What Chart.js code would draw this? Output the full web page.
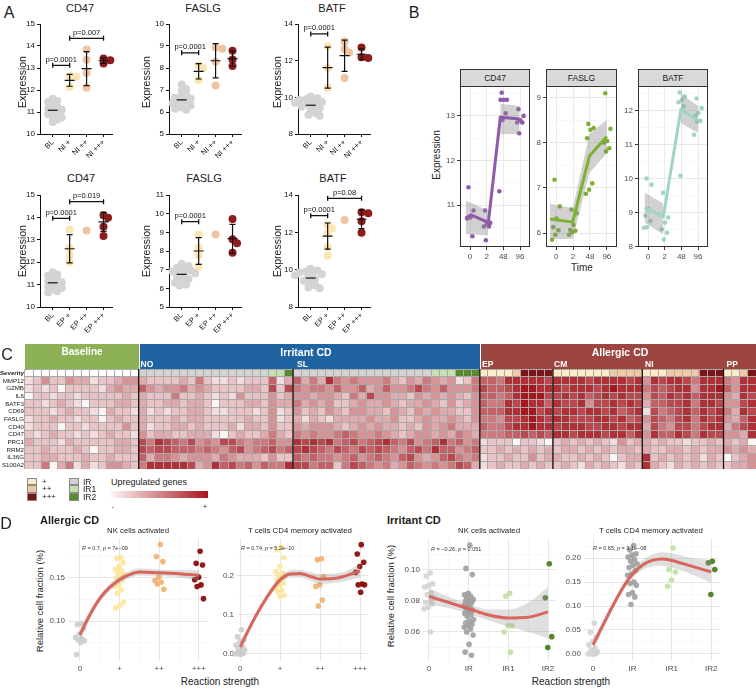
<!DOCTYPE html>
<html>
<head>
<meta charset="utf-8">
<title>Figure</title>
<script src="https://cdn.jsdelivr.net/npm/chart.js@4.4.1/dist/chart.umd.min.js"></script>
<style>
  html, body { margin: 0; padding: 0; background: #fff; }
  body { position: relative; width: 756px; height: 689px; overflow: hidden; font-family: 'Liberation Sans', Arial, Helvetica, sans-serif; color: #222; }
  canvas { position: absolute; }
  .t { position: absolute; white-space: nowrap; line-height: 1; }
  .box { position: absolute; box-sizing: border-box; }
</style>
</head>
<body>
<script>
// ---------- Panel A: expression per reaction group ----------
const A_TOP_CATS = ['BL', 'NI +', 'NI ++', 'NI +++'];
const A_BOT_CATS = ['BL', 'EP +', 'EP ++', 'EP +++'];
const A_COLORS = ['#d4d4d4', '#fbe6b2', '#efc4a2', '#8d1c1c'];

const A_TICKS_CD47 = [10, 11, 12, 13, 14, 15];
const A_TICKS_FASLG_NI = [5, 6, 7, 8, 9, 10];
const A_TICKS_FASLG_EP = [5, 6, 7, 8, 9, 10, 11];
const A_TICKS_BATF = [8, 10, 12, 14];

const CD47_NI = [
  [11.6, 11.5, 11.45, 11.35, 11.25, 11.15, 11.1, 11.05, 10.95, 10.9, 10.8, 10.75, 10.65, 10.55],
  [12.64, 12.6, 12.12],
  [13.84, 13.38, 12.77, 12.1],
  [13.43, 13.35, 13.2]
];
const CD47_NI_STATS = [[11.08, 0], [12.44, 0.27], [12.97, 0.77], [13.33, 0.12]];
const CD47_NI_P = [[0, 1, 13.12, 'p=0.0001'], [1, 3, 14.35, 'p=0.007']];

const FASLG_NI = [
  [7.25, 7.05, 6.95, 6.8, 6.7, 6.65, 6.6, 6.5, 6.45, 6.4, 6.3, 6.2, 6.15, 6.1],
  [8.13, 8.0, 7.45],
  [8.93, 8.88, 8.28, 7.2],
  [8.78, 8.39, 8.09]
];
const FASLG_NI_STATS = [[6.55, 0], [7.85, 0.35], [8.33, 0.78], [8.43, 0.35]];
const FASLG_NI_P = [[0, 1, 8.69, 'p=0.0001']];

const BATF_NI = [
  [10.05, 9.95, 9.9, 9.85, 9.8, 9.75, 9.7, 9.6, 9.55, 9.5, 9.4, 9.3, 9.15, 9.05, 9.0],
  [12.78, 11.6, 10.52],
  [13.05, 12.63, 12.45, 11.06],
  [12.72, 12.18, 12.15]
];
const BATF_NI_STATS = [[9.57, 0], [11.62, 1.12], [12.27, 0.85], [12.35, 0.3]];
const BATF_NI_P = [[0, 1, 13.46, 'p=0.0001']];

const CD47_EP = [
  [11.55, 11.45, 11.4, 11.3, 11.2, 11.15, 11.1, 11.05, 10.95, 10.9, 10.85, 10.8, 10.7, 10.65],
  [13.46, 12.62, 12.3, 12.0],
  [13.42],
  [14.1, 13.98, 13.58, 13.17]
];
const CD47_EP_STATS = [[11.08, 0], [12.6, 0.63], null, [13.8, 0.42]];
const CD47_EP_P = [[0, 1, 13.96, 'p=0.0001'], [1, 3, 14.7, 'p=0.019']];

const FASLG_EP = [
  [7.3, 7.2, 7.1, 7.0, 6.95, 6.9, 6.85, 6.8, 6.7, 6.6, 6.5, 6.4, 6.3, 6.2, 6.15],
  [8.88, 8.17, 7.77, 7.15],
  [8.88],
  [9.72, 8.63, 8.42, 7.9]
];
const FASLG_EP_STATS = [[6.75, 0], [8.0, 0.72], null, [8.66, 0.77]];
const FASLG_EP_P = [[0, 1, 9.57, 'p=0.0001']];

const BATF_EP = [
  [10.05, 9.95, 9.9, 9.85, 9.8, 9.75, 9.7, 9.6, 9.5, 9.4, 9.3, 9.15, 9.05, 9.0],
  [12.39, 12.2, 11.94, 11.22, 10.74],
  [12.66],
  [13.08, 13.02, 12.6, 11.98]
];
const BATF_EP_STATS = [[9.55, 0], [11.8, 0.7], null, [12.7, 0.5]];
const BATF_EP_P = [[0, 1, 12.89, 'p=0.0001'], [1, 3, 13.82, 'p=0.08']];

// ---------- Panel B: time course ----------
const B_TIMES = ['0', '2', '48', '96'];

const B_CD47_PTS = [[11.4, 10.88, 10.72, 10.7, 10.3], [10.88, 10.6, 10.58, 10.52, 10.52, 10.21],
  [13.52, 13.36, 13.36, 13.36, 13.06, 12.91, 11.31], [13.15, 13.0, 12.9, 12.85, 12.85, 12.61]];
const B_CD47_LINE_X = [0.74, 1.06, 2.1, 2.82, 3.98];
const B_CD47_LINE_Y = [10.71, 10.78, 10.61, 12.97, 12.93];
const B_CD47_BAND_X = [[0.74, 2.1], [2.82, 3.98]];
const B_CD47_BAND_LO = [[10.35, 10.32], [12.58, 12.6]];
const B_CD47_BAND_HI = [[11.1, 10.88], [13.27, 13.22]];

const B_FASLG_PTS = [[7.18, 6.59, 6.32, 6.13, 6.06, 5.96, 5.85], [6.52, 6.44, 6.18, 6.07, 6.05, 6.02, 5.96],
  [8.42, 8.33, 8.29, 8.1, 7.1, 6.96, 6.87], [9.1, 8.31, 8.04, 8.0, 7.88, 7.81]];
const B_FASLG_LINE_X = [0.64, 1.98, 2.97, 4.0];
const B_FASLG_LINE_Y = [6.31, 6.24, 7.71, 8.14];
const B_FASLG_BAND_X = [[0.64, 1.98, 2.97, 4.0]];
const B_FASLG_BAND_LO = [[5.87, 5.87, 7.33, 7.77]];
const B_FASLG_BAND_HI = [[6.65, 6.55, 8.2, 8.51]];

const B_BATF_PTS = [[10.0, 9.82, 9.1, 8.9, 8.75, 8.57, 8.55], [9.58, 8.85, 8.7, 8.5, 8.4, 8.2],
  [12.54, 12.42, 12.32, 12.25, 12.13, 10.08], [12.36, 12.08, 11.93, 11.85, 11.7, 11.68, 11.29]];
const B_BATF_LINE_X = [0.8, 1.92, 2.97, 4.0];
const B_BATF_LINE_Y = [9.14, 8.87, 12.03, 11.72];
const B_BATF_BAND_X = [[0.8, 1.92], [2.97, 4.0]];
const B_BATF_BAND_LO = [[8.7, 8.35], [11.64, 11.34]];
const B_BATF_BAND_HI = [[9.58, 9.26], [12.5, 12.15]];

// ---------- Panel C: heatmap ----------
const HM_ROWS = ['Severity', 'MMP12', 'GZMB', 'IL6', 'BATF3', 'CD69', 'FASLG', 'CD40', 'CD47', 'PRC1', 'RRM2', 'IL36G', 'S100A2'];
// groups: Baseline 14 | NO 19 | SL 23 | EP 9 | CM 11 | NI 10 | PP 4
const HM_SPLITS = [14, 33, 56, 65, 76, 86];
const HM_SEVERITY = '00000000000000 gggggggggggggggglld ggggggggggggggggglllddd 111123333 11111112222 1112222333 1123';
const HM_MMP12 = '12422433122344 3222232521121222613 63538545444532435434125 665888887 88887888878 4878875888 5488';
const HM_GZMB = '12120222213433 6434453432222332727 54554644634644575464445 766789988 87888789888 5767884889 6488';
const HM_IL6 = '02212212222232 3222522321214222423 44344325374433243434324 665689997 78786787877 4768786888 4387';
const HM_BATF3 = '22123210222332 3223323320222332433 53434223433432334324234 655879886 87784778787 3667785887 4478';
const HM_CD69 = '22212322103221 3121223321122212412 42324324433243243433224 666889978 78878878678 1756786878 5387';
const HM_FASLG = '12232212202322 3222323322222322412 31321333343342234334324 554778987 88777887867 4765785878 4368';
const HM_CD40 = '12220221222242 3122332322231332422 43444323434332324345333 655788988 78887788788 3754775788 3578';
const HM_CD47 = '21232212123221 4233223331023223532 54544565445432344343543 555667676 88788878868 4866875877 4438';
const HM_PRC1 = '32221322222332 7587657454775455644 87878567567865745685645 122202210 23232321423 3232212232 3230';
const HM_RRM2 = '22322232022332 7677666565467456756 78765765767654675866456 223232323 23323232332 3223323233 4343';
const HM_IL36G = '22332223223222 6355434443543332422 65655456456546743467545 122322423 32232320233 8232323132 0234';
const HM_S100A2 = '22503513124432 5888887348675646558 77566257654534654545763 123223232 23213232132 8321323232 2334';
const SEV_COLORS = { '0': '#ffffff', g: '#d2d2d2', l: '#c6dfae', d: '#5a8a2e', '1': '#fcecc5', '2': '#f0c8a6', '3': '#7b1416' };
const HM_LOW = [252, 245, 246], HM_HIGH = [168, 22, 30];

// ---------- Panel D: cell fractions vs reaction strength ----------
const D_ALLERGIC_X = ['0', '+', '++', '+++'];
const D_IRRITANT_X = ['0', 'IR', 'IR1', 'IR2'];
const D_X_MINOR = [0.5, 1.5, 2.5];

const D1_PTS = [
  [0.097, 0.096, 0.091, 0.085, 0.081, 0.079, 0.078, 0.077, 0.075, 0.061],
  [0.174, 0.173, 0.168, 0.164, 0.160, 0.158, 0.156, 0.154, 0.152, 0.150, 0.148, 0.142, 0.140, 0.136, 0.132, 0.122, 0.118, 0.115],
  [0.189, 0.175, 0.169, 0.151, 0.147, 0.145, 0.143, 0.137],
  [0.181, 0.167, 0.165, 0.151, 0.148, 0.142, 0.140, 0.126]
];
const D1_CX = [0, 0.25, 0.5, 0.75, 1, 1.25, 1.5, 2, 2.5, 3];
const D1_CY = [0.084, 0.107, 0.126, 0.139, 0.148, 0.154, 0.157, 0.156, 0.155, 0.153];
const D1_LO = [0.078, 0.102, 0.122, 0.135, 0.144, 0.150, 0.153, 0.152, 0.151, 0.147];
const D1_HI = [0.090, 0.112, 0.130, 0.143, 0.152, 0.158, 0.161, 0.160, 0.159, 0.159];
const D1_YT = ['0.10', '0.15'];
const D1_YM = [0.075, 0.125, 0.175];

const D2_PTS = [
  [0.062, 0.044, 0.036, 0.032, 0.023, 0.019, 0.015, 0.010, 0.006, 0.003, 0.002, 0.0, 0.0, 0.0],
  [0.273, 0.267, 0.247, 0.224, 0.211, 0.207, 0.203, 0.198, 0.194, 0.19, 0.181, 0.177, 0.168, 0.164, 0.16, 0.151, 0.147],
  [0.244, 0.241, 0.198, 0.177, 0.173, 0.138, 0.123],
  [0.28, 0.256, 0.235, 0.224, 0.209, 0.179, 0.177, 0.177, 0.158]
];
const D2_CX = [0, 0.25, 0.5, 0.75, 1, 1.25, 1.5, 1.75, 2, 2.5, 3];
const D2_CY = [0.018, 0.07, 0.117, 0.158, 0.19, 0.205, 0.206, 0.199, 0.192, 0.196, 0.213];
const D2_LO = [0.006, 0.06, 0.108, 0.149, 0.181, 0.195, 0.196, 0.188, 0.179, 0.184, 0.196];
const D2_HI = [0.030, 0.08, 0.126, 0.167, 0.199, 0.215, 0.216, 0.210, 0.205, 0.208, 0.230];
const D2_YT = ['0.0', '0.1', '0.2'];
const D2_YM = [0.05, 0.15, 0.25];

const D3_PTS = [
  [0.098, 0.096, 0.091, 0.090, 0.089, 0.085, 0.084, 0.082, 0.080, 0.079, 0.078, 0.076, 0.075, 0.060],
  [0.116, 0.101, 0.097, 0.085, 0.084, 0.083, 0.082, 0.081, 0.080, 0.080, 0.079, 0.078, 0.077, 0.076, 0.075, 0.074,
   0.073, 0.072, 0.071, 0.070, 0.068, 0.067, 0.066, 0.065, 0.064, 0.063, 0.062, 0.060, 0.058, 0.052, 0.047, 0.045],
  [0.085, 0.083, 0.064, 0.064, 0.060, 0.047],
  [0.104, 0.082, 0.057, 0.050]
];
const D3_CX = [0, 0.5, 1, 1.5, 2, 2.5, 3];
const D3_CY = [0.083, 0.079, 0.075, 0.071, 0.069, 0.0695, 0.073];
const D3_LO = [0.0775, 0.0755, 0.072, 0.0675, 0.0635, 0.060, 0.056];
const D3_HI = [0.0885, 0.0825, 0.078, 0.0745, 0.0745, 0.079, 0.089];
const D3_YT = ['0.06', '0.08', '0.10'];
const D3_YM = [0.05, 0.07, 0.09, 0.11];

const D4_PTS = [
  [0.064, 0.045, 0.036, 0.026, 0.019, 0.012, 0.008, 0.005, 0.003, 0.002, 0.001, 0.0, 0.0, 0.0],
  [0.226, 0.217, 0.209, 0.206, 0.202, 0.197, 0.193, 0.188, 0.185, 0.18, 0.174, 0.167, 0.164, 0.15, 0.147, 0.143, 0.128, 0.124, 0.119, 0.103],
  [0.221, 0.176, 0.171, 0.154, 0.141],
  [0.193, 0.19, 0.176, 0.124]
];
const D4_CX = [0, 0.25, 0.5, 0.75, 1, 1.25, 1.5, 1.75, 2, 2.5, 3];
const D4_CY = [0.019, 0.06, 0.1, 0.137, 0.166, 0.185, 0.195, 0.198, 0.195, 0.183, 0.171];
const D4_LO = [0.009, 0.051, 0.092, 0.129, 0.158, 0.175, 0.183, 0.184, 0.180, 0.166, 0.148];
const D4_HI = [0.029, 0.069, 0.108, 0.145, 0.174, 0.195, 0.207, 0.212, 0.210, 0.200, 0.196];
const D4_YT = ['0.00', '0.05', '0.10', '0.15', '0.20'];
const D4_YM = [0.025, 0.075, 0.125, 0.175, 0.225];

const D_ALLERGIC_COLORS = ['rgba(205,205,205,0.9)', 'rgba(253,229,155,0.9)', 'rgba(240,172,102,0.85)', 'rgba(137,14,14,0.95)'];
const D_IRRITANT_COLORS = ['rgba(212,212,212,0.9)', 'rgba(160,160,160,0.9)', 'rgba(196,226,165,0.95)', 'rgba(78,126,36,0.95)'];

// ---------- setup ----------
Chart.defaults.font.family = "'Liberation Sans', Arial, Helvetica, sans-serif";
Chart.defaults.animation = false;
Chart.defaults.responsive = false;
Chart.defaults.maintainAspectRatio = false;
Chart.defaults.plugins.legend.display = false;
Chart.defaults.plugins.tooltip.enabled = false;
Chart.defaults.events = [];

function txt(str, x, y, o = {}) {
  const d = document.createElement('div');
  d.className = 't';
  if (o.html) d.innerHTML = str; else d.textContent = str;
  d.style.left = x + 'px';
  d.style.top = y + 'px';
  d.style.fontSize = (o.size || 9) + 'px';
  d.style.fontWeight = o.bold ? 'bold' : 'normal';
  d.style.color = o.color || '#222';
  const tx = o.align === 'left' ? '0' : (o.align === 'right' ? '-100%' : '-50%');
  d.style.transform = `translate(${tx},-50%)` + (o.rot ? ` rotate(${o.rot}deg)` : '');
  document.body.appendChild(d);
}

function box(x, y, w, h, bg, border) {
  const d = document.createElement('div');
  d.className = 'box';
  Object.assign(d.style, { left: x + 'px', top: y + 'px', width: w + 'px', height: h + 'px', background: bg });
  if (border) d.style.border = border;
  document.body.appendChild(d);
}

// puts a chart so that its plot area lands on area = [x0, y0, x1, y1]
function place(area, yW, xH, padT, padR, cfg) {
  const [x0, y0, x1, y1] = area;
  const c = document.createElement('canvas');
  c.width = Math.round(x1 - x0 + yW + padR);
  c.height = Math.round(y1 - y0 + padT + xH);
  c.style.left = (x0 - yW) + 'px';
  c.style.top = (y0 - padT) + 'px';
  document.body.appendChild(c);
  cfg.options.devicePixelRatio = 1;
  cfg.options.layout = { autoPadding: false, padding: { left: 0, top: padT, right: padR, bottom: 0 } };
  cfg.options.scales.x.afterFit = s => { s.height = xH; s.paddingLeft = 0; s.paddingRight = 0; };
  cfg.options.scales.y.afterFit = s => { s.width = yW; s.paddingTop = 0; s.paddingBottom = 0; };
  return new Chart(c, cfg);
}

const majMin = (major, minor) => [...major.map(v => ({ value: v, mj: true })), ...minor.map(v => ({ value: v, mj: false }))]
  .sort((a, b) => a.value - b.value);
const isMj = c => c.tick && c.tick.mj;

// ---------- Panel A ----------
function swarmOffsets(vals, pxY, pxX, minD) {
  const placed = [];
  return vals.map(v => {
    const py = v * pxY;
    let dx = 0;
    for (let k = 0; k < 30; k++) {
      const cand = (k % 2 ? 1 : -1) * Math.ceil(k / 2) * minD * 0.45;
      if (placed.every(p => Math.hypot(p[0] - cand, p[1] - py) >= minD)) { dx = cand; break; }
    }
    placed.push([dx, py]);
    return dx / pxX;
  });
}

const aStats = {
  id: 'aStats',
  afterDatasetsDraw(chart, args, o) {
    const { ctx } = chart, x = chart.scales.x, y = chart.scales.y;
    ctx.save();
    ctx.strokeStyle = '#111';
    ctx.fillStyle = '#111';
    ctx.lineWidth = 1.2;
    o.stats.forEach((s, g) => {
      if (!s) return;
      const cx = x.getPixelForValue(g), m = s[0], sd = s[1];
      const ym = y.getPixelForValue(m);
      ctx.beginPath();
      ctx.moveTo(cx - 5, ym); ctx.lineTo(cx + 5, ym);
      if (sd > 0) {
        const yt = y.getPixelForValue(m + sd), yb = y.getPixelForValue(m - sd);
        ctx.moveTo(cx, yt); ctx.lineTo(cx, yb);
        ctx.moveTo(cx - 3, yt); ctx.lineTo(cx + 3, yt);
        ctx.moveTo(cx - 3, yb); ctx.lineTo(cx + 3, yb);
      }
      ctx.stroke();
    });
    ctx.lineWidth = 1.3;
    ctx.font = "7.5px 'Liberation Sans', Arial, sans-serif";
    ctx.textAlign = 'center';
    ctx.textBaseline = 'bottom';
    o.brackets.forEach(([a, b, v, label]) => {
      const xa = x.getPixelForValue(a), xb = x.getPixelForValue(b), yy = y.getPixelForValue(v);
      ctx.beginPath();
      ctx.moveTo(xa, yy); ctx.lineTo(xb, yy);
      ctx.moveTo(xa, yy - 2.5); ctx.lineTo(xa, yy + 2.5);
      ctx.moveTo(xb, yy - 2.5); ctx.lineTo(xb, yy + 2.5);
      ctx.stroke();
      ctx.fillText(label, (xa + xb) / 2, yy - 2);
    });
    ctx.restore();
  }
};

function aChart(x0, y0, y1, cats, groups, stats, brackets, yTicks) {
  const W = 72, xMin = -0.75, xMax = 3.5;
  const yMin = yTicks[0], yMax = yTicks[yTicks.length - 1];
  const pxY = (y1 - y0) / (yMax - yMin), pxX = W / (xMax - xMin);
  const datasets = groups.map((vals, g) => {
    const offs = swarmOffsets(vals, pxY, pxX, 5);
    return {
      data: vals.map((v, i) => ({ x: g + offs[i], y: v })),
      backgroundColor: A_COLORS[g], borderWidth: 0, pointRadius: 4, clip: false
    };
  });
  place([x0, y0, x0 + W, y1], 22, 34, 8, 6, {
    type: 'scatter',
    data: { datasets },
    options: {
      scales: {
        x: {
          type: 'linear', min: xMin, max: xMax,
          afterBuildTicks: s => { s.ticks = cats.map((c, i) => ({ value: i })); },
          ticks: { callback: v => cats[v], autoSkip: false, minRotation: 45, maxRotation: 45, padding: 1, font: { size: 7.5 }, color: '#111' },
          grid: { drawOnChartArea: false, drawTicks: true, tickLength: 3, color: '#111' },
          border: { color: '#111', width: 1 }
        },
        y: {
          min: yMin, max: yMax,
          afterBuildTicks: s => { s.ticks = yTicks.map(v => ({ value: v })); },
          ticks: { padding: 2, font: { size: 8 }, color: '#111', autoSkip: false },
          grid: { drawOnChartArea: false, drawTicks: true, tickLength: 3, color: '#111' },
          border: { color: '#111', width: 1 }
        }
      },
      plugins: { aStats: { stats, brackets } }
    },
    plugins: [aStats]
  });
}

aChart(40, 24, 134, A_TOP_CATS, CD47_NI, CD47_NI_STATS, CD47_NI_P, A_TICKS_CD47);
aChart(169, 24, 134, A_TOP_CATS, FASLG_NI, FASLG_NI_STATS, FASLG_NI_P, A_TICKS_FASLG_NI);
aChart(298, 24, 134, A_TOP_CATS, BATF_NI, BATF_NI_STATS, BATF_NI_P, A_TICKS_BATF);
aChart(40, 195, 307, A_BOT_CATS, CD47_EP, CD47_EP_STATS, CD47_EP_P, A_TICKS_CD47);
aChart(169, 195, 307, A_BOT_CATS, FASLG_EP, FASLG_EP_STATS, FASLG_EP_P, A_TICKS_FASLG_EP);
aChart(298, 195, 307, A_BOT_CATS, BATF_EP, BATF_EP_STATS, BATF_EP_P, A_TICKS_BATF);

txt('A', 9, 13, { size: 16 });
[['CD47', 80], ['FASLG', 203], ['BATF', 332]].forEach(([t, x]) => { txt(t, x, 8, { size: 11 }); txt(t, x + 1, 178, { size: 11 }); });
[22, 146, 277].forEach(x => { txt('Expression', x, 82, { size: 10.5, rot: -90 }); txt('Expression', x, 251, { size: 10.5, rot: -90 }); });

// ---------- Panel B ----------
const frame = {
  id: 'frame',
  afterDraw(chart) {
    const { ctx, chartArea: a } = chart;
    ctx.save();
    ctx.strokeStyle = '#333';
    ctx.lineWidth = 1;
    ctx.strokeRect(Math.round(a.left) + 0.5, Math.round(a.top) + 0.5, Math.round(a.width) - 1, Math.round(a.height) - 1);
    ctx.restore();
  }
};
const jitB = i => (((i * 0.618034 + 0.31) % 1) - 0.5) * 0.5;

function bChart(area, name, color, pts, lx, ly, bx, blo, bhi, yr, yMajor, yMinor) {
  const datasets = [{
    type: 'line', data: lx.map((x, i) => ({ x, y: ly[i] })), borderColor: color, borderWidth: 3,
    pointRadius: 0, tension: 0, order: 0, clip: false, fill: false
  }];
  bx.forEach((xs, s) => {
    datasets.push({ type: 'line', data: xs.map((x, i) => ({ x, y: blo[s][i] })), borderColor: 'rgba(0,0,0,0)', pointRadius: 0, order: 1, fill: false });
    datasets.push({ type: 'line', data: xs.map((x, i) => ({ x, y: bhi[s][i] })), borderColor: 'rgba(0,0,0,0)', pointRadius: 0, order: 1, fill: '-1', backgroundColor: 'rgba(140,140,140,0.4)' });
  });
  pts.forEach((vals, g) => {
    datasets.push({ data: vals.map((v, i) => ({ x: g + 1 + jitB(i), y: v })), backgroundColor: color, pointRadius: 2.3, borderWidth: 0, order: 2, clip: false });
  });
  place(area, 16, 14, 2, 2, {
    type: 'scatter',
    data: { datasets },
    options: {
      scales: {
        x: {
          type: 'linear', min: 0.4, max: 4.6,
          afterBuildTicks: s => { s.ticks = B_TIMES.map((t, i) => ({ value: i + 1 })); },
          ticks: { autoSkip: false, maxRotation: 0, padding: 2, font: { size: 8 }, color: '#4d4d4d', callback: v => B_TIMES[v - 1] },
          grid: { color: '#ebebeb', lineWidth: 1, tickColor: '#333', tickLength: 3 },
          border: { display: false }
        },
        y: {
          min: yr[0], max: yr[1],
          afterBuildTicks: s => { s.ticks = majMin(yMajor, yMinor); },
          ticks: { autoSkip: false, padding: 2, font: { size: 8 }, color: '#4d4d4d', callback: (v, i, t) => t[i].mj ? String(v) : '' },
          grid: { color: c => isMj(c) ? '#e8e8e8' : '#f4f4f4', lineWidth: c => isMj(c) ? 1 : 0.6,
            tickColor: c => isMj(c) ? '#333' : 'rgba(0,0,0,0)', tickLength: 3 },
          border: { display: false }
        }
      }
    },
    plugins: [frame]
  });
  box(area[0], 69, area[2] - area[0], 18, '#d9d9d9', '1px solid #333');
  txt(name, (area[0] + area[2]) / 2, 78, { size: 8.5, color: '#1a1a1a' });
}

bChart([460, 86, 530, 247], 'CD47', '#8f5aa9', B_CD47_PTS, B_CD47_LINE_X, B_CD47_LINE_Y, B_CD47_BAND_X, B_CD47_BAND_LO, B_CD47_BAND_HI, [10.06, 13.67], [11, 12, 13], [10.5, 11.5, 12.5, 13.5]);
bChart([546, 86, 617, 247], 'FASLG', '#7bb12e', B_FASLG_PTS, B_FASLG_LINE_X, B_FASLG_LINE_Y, B_FASLG_BAND_X, B_FASLG_BAND_LO, B_FASLG_BAND_HI, [5.69, 9.26], [6, 7, 8, 9], [6.5, 7.5, 8.5]);
bChart([638, 86, 708, 247], 'BATF', '#9fd6c1', B_BATF_PTS, B_BATF_LINE_X, B_BATF_LINE_Y, B_BATF_BAND_X, B_BATF_BAND_LO, B_BATF_BAND_HI, [7.98, 12.73], [8, 9, 10, 11, 12], [8.5, 9.5, 10.5, 11.5, 12.5]);

txt('B', 414, 13, { size: 16 });
txt('Expression', 437, 155, { size: 10, rot: -90 });
txt('Time', 582, 268, { size: 10 });

// ---------- Panel C ----------
function hmColor(v) {
  const t = v / 9;
  return `rgb(${HM_LOW.map((c, i) => Math.round(c + (HM_HIGH[i] - c) * t)).join(',')})`;
}
const cells = s => s.replace(/ /g, '').split('');
const sevCells = cells(HM_SEVERITY);
const hmCols = sevCells.map((_, i) => String(i));
const geneRows = [HM_MMP12, HM_GZMB, HM_IL6, HM_BATF3, HM_CD69, HM_FASLG, HM_CD40, HM_CD47, HM_PRC1, HM_RRM2, HM_IL36G, HM_S100A2];

const hmDatasets = [{
  data: hmCols.map(() => [0, 1]),
  backgroundColor: sevCells.map(c => SEV_COLORS[c])
}, ...geneRows.map((row, r) => {
  const vals = cells(row);
  return { data: hmCols.map(() => [r + 1, r + 2]), backgroundColor: hmCols.map((_, i) => hmColor(+(vals[i] || 0))) };
})].map(d => Object.assign(d, { grouped: false, barPercentage: 1, categoryPercentage: 1, borderWidth: 0 }));

const hmSplits = {
  id: 'hmSplits',
  afterDraw(chart) {
    const { ctx, chartArea: a } = chart, x = chart.scales.x;
    ctx.save();
    ctx.strokeStyle = '#111';
    ctx.lineWidth = 1.3;
    HM_SPLITS.forEach(k => {
      const px = (x.getPixelForValue(k - 1) + x.getPixelForValue(k)) / 2;
      ctx.beginPath(); ctx.moveTo(px, a.top); ctx.lineTo(px, a.bottom); ctx.stroke();
    });
    ctx.restore();
  }
};

const HM_TOP = 369, HM_BOTTOM = 469;
const hmChart = {
  type: 'bar',
  data: { labels: hmCols, datasets: hmDatasets },
  options: {
    scales: {
      x: {
        type: 'category', offset: true,
        ticks: { display: false },
        grid: { offset: true, color: '#a9a9a9', lineWidth: 1, z: 1, drawTicks: false },
        border: { display: false }
      },
      y: {
        type: 'linear', min: 0, max: HM_ROWS.length, reverse: true,
        ticks: { display: false },
        grid: { display: false },
        border: { display: false }
      },
      y2: {
        type: 'linear', position: 'right', min: 0, max: HM_ROWS.length, reverse: true,
        afterBuildTicks: s => { s.ticks = HM_ROWS.concat(['']).map((r, i) => ({ value: i })); },
        afterFit: s => { s.width = 0; s.paddingTop = 0; s.paddingBottom = 0; },
        ticks: { display: false },
        grid: { color: '#a9a9a9', lineWidth: 1, z: 1, drawTicks: false },
        border: { display: false }
      }
    }
  },
  plugins: [hmSplits]
};
place([25, HM_TOP, 756, HM_BOTTOM], 25, 0, 0, 0, hmChart);
// row names
HM_ROWS.forEach((r, i) => txt(r, 24, HM_TOP + (i + 0.5) * (HM_BOTTOM - HM_TOP) / HM_ROWS.length,
  { size: 6.2, align: 'right', bold: i === 0, color: '#222' }));

txt('C', 7, 355, { size: 16 });
box(25, 344, 113.5, 24.5, '#8db255');
box(139.5, 344, 340, 24.5, '#1f64a0');
box(480.5, 344, 275.5, 24.5, '#9c4541');
txt('Baseline', 82, 352, { size: 10, bold: true, color: '#fff' });
txt('Irritant CD', 306, 352, { size: 10.5, bold: true, color: '#fff' });
txt('Allergic CD', 620, 352, { size: 10.5, bold: true, color: '#fff' });
[['NO', 140.5], ['SL', 297], ['EP', 482], ['CM', 554], ['NI', 645], ['PP', 726.5]].forEach(([t, x]) => txt(t, x, 363.5, { size: 8.5, bold: true, color: '#fff', align: 'left' }));

// legend for C
[['+', '#fcecc5'], ['++', '#f0c8a6'], ['+++', '#7b1416']].forEach(([t, c], i) => {
  box(27, 477.5 + i * 7.8, 10, 7.8, c, '0.6px solid #8a8a8a');
  txt(t, 42, 481.5 + i * 7.8, { size: 8, align: 'left' });
});
[['IR', '#d2d2d2'], ['IR1', '#c6dfae'], ['IR2', '#5a8a2e']].forEach(([t, c], i) => {
  box(69, 477.5 + i * 7.8, 10, 7.8, c, '0.6px solid #8a8a8a');
  txt(t, 83, 481.5 + i * 7.8, { size: 8.5, align: 'left' });
});
txt('Upregulated genes', 111, 482, { size: 9, align: 'left' });
const grad = document.createElement('div');
grad.className = 'box';
Object.assign(grad.style, { left: '111px', top: '490.5px', width: '97px', height: '7.5px', background: `linear-gradient(to right, ${hmColor(0)}, ${hmColor(9)})` });
document.body.appendChild(grad);
txt('-', 113, 506, { size: 7 });
txt('+', 205, 506, { size: 7 });

// ---------- Panel D ----------
const jitD = i => ((((i + 1) * 0.618034) % 1) - 0.5) * 0.26;

function dChart(area, xr, yr, xLabels, yLabels, yMinor, groups, colors, cx, cy, lo, hi) {
  const datasets = [
    { type: 'line', data: cx.map((x, i) => ({ x, y: cy[i] })), borderColor: '#d9665c', borderWidth: 3, pointRadius: 0,
      cubicInterpolationMode: 'monotone', order: 0, clip: false, fill: false },
    { type: 'line', data: cx.map((x, i) => ({ x, y: lo[i] })), borderColor: 'rgba(0,0,0,0)', pointRadius: 0,
      cubicInterpolationMode: 'monotone', order: 1, fill: false },
    { type: 'line', data: cx.map((x, i) => ({ x, y: hi[i] })), borderColor: 'rgba(0,0,0,0)', pointRadius: 0,
      cubicInterpolationMode: 'monotone', order: 1, fill: '-1', backgroundColor: 'rgba(150,150,150,0.3)' },
    ...groups.map((vals, g) => ({ data: vals.map((v, i) => ({ x: g + jitD(i), y: v })), backgroundColor: colors[g],
      pointRadius: 2.8, borderWidth: 0, order: 2, clip: false }))
  ];
  const yMajor = yLabels.map(l => parseFloat(l));
  place(area, 22, 14, 4, 3, {
    type: 'scatter',
    data: { datasets },
    options: {
      scales: {
        x: {
          type: 'linear', min: xr[0], max: xr[1],
          afterBuildTicks: s => { s.ticks = majMin(xLabels.map((l, i) => i), D_X_MINOR); },
          ticks: { autoSkip: false, maxRotation: 0, padding: 3, font: { size: 8 }, color: '#4d4d4d', callback: (v, i, t) => t[i].mj ? xLabels[v] : '' },
          grid: { drawTicks: false, color: c => isMj(c) ? '#e3e3e3' : '#f1f1f1', lineWidth: c => isMj(c) ? 0.9 : 0.5 },
          border: { display: false }
        },
        y: {
          min: yr[0], max: yr[1],
          afterBuildTicks: s => { s.ticks = majMin(yMajor, yMinor); },
          ticks: { autoSkip: false, padding: 3, font: { size: 8 }, color: '#4d4d4d',
            callback: (v, i, t) => t[i].mj ? yLabels[yMajor.indexOf(v)] : '' },
          grid: { drawTicks: false, color: c => isMj(c) ? '#e3e3e3' : '#f1f1f1', lineWidth: c => isMj(c) ? 0.9 : 0.5 },
          border: { display: false }
        }
      }
    }
  });
}

dChart([68, 538, 208, 661], [-0.3, 3.23], [0.0535, 0.1965], D_ALLERGIC_X, D1_YT, D1_YM, D1_PTS, D_ALLERGIC_COLORS, D1_CX, D1_CY, D1_LO, D1_HI);
dChart([237, 538, 368, 661], [-0.08, 3.2], [-0.018, 0.297], D_ALLERGIC_X, D2_YT, D2_YM, D2_PTS, D_ALLERGIC_COLORS, D2_CX, D2_CY, D2_LO, D2_HI);
dChart([423, 538, 556, 661], [-0.15, 3.2], [0.0413, 0.1206], D_IRRITANT_X, D3_YT, D3_YM, D3_PTS, D_IRRITANT_COLORS, D3_CX, D3_CY, D3_LO, D3_HI);
dChart([584, 538, 719, 661], [-0.23, 3.2], [-0.0146, 0.2417], D_IRRITANT_X, D4_YT, D4_YM, D4_PTS, D_IRRITANT_COLORS, D4_CX, D4_CY, D4_LO, D4_HI);

txt('D', 6, 524, { size: 16 });
txt('Allergic CD', 40, 520, { size: 11, bold: true, align: 'left' });
txt('Irritant CD', 387, 520, { size: 11, bold: true, align: 'left' });
txt('NK cells activated', 138, 531, { size: 7.8 });
txt('T cells CD4 memory activated', 300, 531, { size: 7.8 });
txt('NK cells activated', 489, 531, { size: 7.8 });
txt('T cells CD4 memory activated', 651, 531, { size: 7.8 });
txt('Reaction strength', 220, 682, { size: 10 });
txt('Reaction strength', 571, 682, { size: 10 });
txt('Relative cell fraction (%)', 40, 601, { size: 9.5, rot: -90 });
txt('Relative cell fraction (%)', 391, 596, { size: 9.5, rot: -90 });
txt('<i>R</i> = 0.7, <i>p</i> = 7e\u221209', 82, 549, { size: 5.5, html: true, align: 'left', color: '#333' });
txt('<i>R</i> = 0.74, <i>p</i> = 5.2e\u221210', 241, 549, { size: 5.5, html: true, align: 'left', color: '#333' });
txt('<i>R</i> = \u22120.26, <i>p</i> = 0.051', 431, 550, { size: 5.5, html: true, align: 'left', color: '#333' });
txt('<i>R</i> = 0.65, <i>p</i> = 3.1e\u221208', 593, 549, { size: 5.5, html: true, align: 'left', color: '#333' });
</script>
</body>
</html>
